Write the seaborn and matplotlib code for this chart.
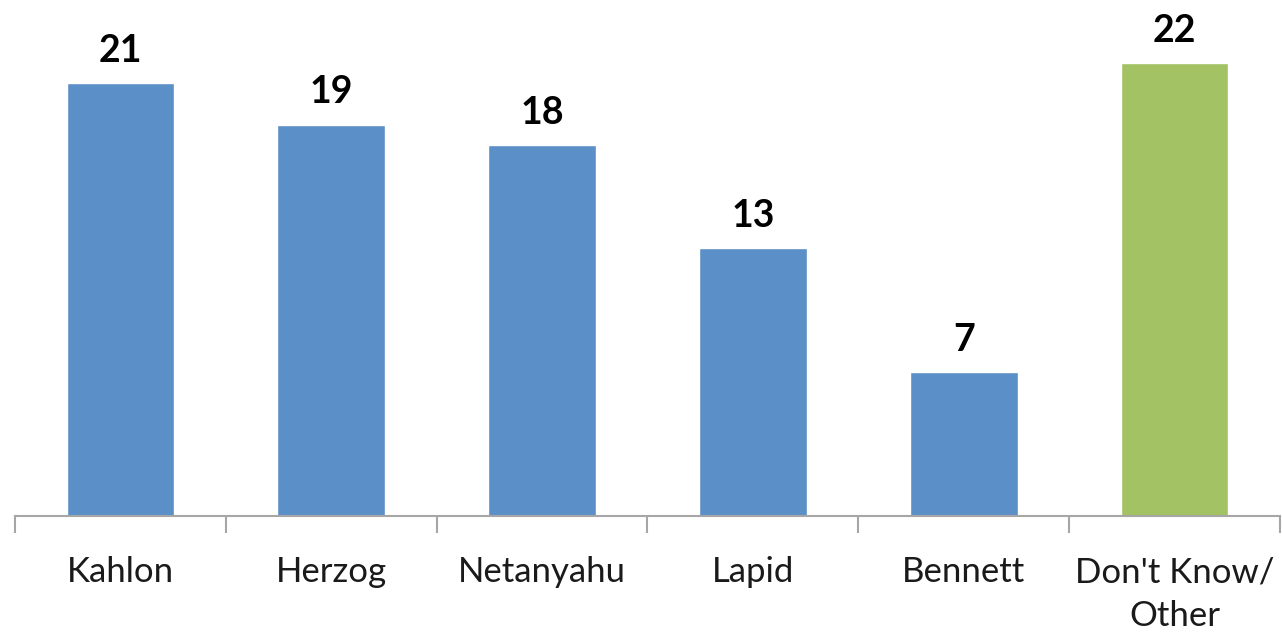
import matplotlib.pyplot as plt
import seaborn as sns
import pandas as pd

names = ['Kahlon', 'Herzog', 'Netanyahu', 'Lapid', 'Bennett', "Don't Know/\nOther"]
values = [21, 19, 18, 13, 7, 22]
colors = ['#5B8FC7', '#5B8FC7', '#5B8FC7', '#5B8FC7', '#5B8FC7', '#A3C264']

df = pd.DataFrame({'name': names, 'value': values})

sns.set_style('white')
plt.rcParams['font.family'] = ['Lato', 'DejaVu Sans']

fig = plt.figure(figsize=(12.82, 6.33), dpi=100)
ax = fig.add_axes([15/1282, 117/633, 1265/1282, 516/633])

sns.barplot(data=df, x='name', y='value', hue='name', palette=colors,
            legend=False, width=0.51, saturation=1, ax=ax)

for i, v in enumerate(values):
    ax.annotate(str(v), (i, v), xytext=(0, 11), textcoords='offset points',
                ha='center', va='bottom', fontsize=27, fontweight='bold',
                color='black')

ax.set_xlim(-0.5, 5.5)
ax.set_ylim(0, 25.05)
ax.set_yticks([])
ax.set_xlabel('')
ax.set_ylabel('')

# boundary ticks between categories, labels centred
ax.set_xticks([i - 0.5 for i in range(7)])
ax.set_xticklabels([''] * 7)
ax.set_xticks(range(6), minor=True)
ax.set_xticklabels(names, minor=True, fontsize=25, color='#1a1a1a',
                   linespacing=1.45)
ax.tick_params(axis='x', which='major', length=12, width=1.5, color='#A6A6A6',
               direction='out', bottom=True)
ax.tick_params(axis='x', which='minor', length=0, pad=29)

for s in ['top', 'right', 'left']:
    ax.spines[s].set_visible(False)
ax.spines['bottom'].set_color('#A6A6A6')
ax.spines['bottom'].set_linewidth(1.5)

fig.savefig('out.png', dpi=100)
